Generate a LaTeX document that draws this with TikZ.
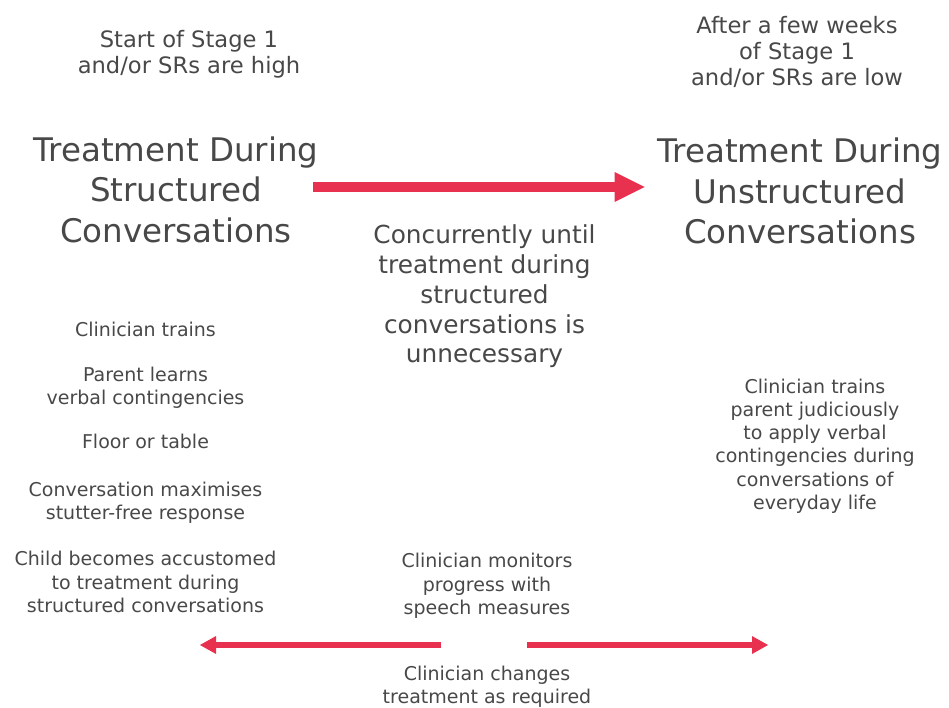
\documentclass[tikz,border=0pt]{standalone}
\usepackage{fontspec}
\setmainfont{DejaVu Sans}
\usetikzlibrary{arrows.meta}
\definecolor{txt}{RGB}{72,72,72}
\definecolor{flow}{RGB}{232,48,79}
\tikzset{
  every node/.style={inner sep=0pt, outer sep=0pt, text=txt, align=center},
  title/.style={font=\fontsize{32.5}{40.5}\selectfont},
  cond/.style={font=\fontsize{22.6}{26}\selectfont},
  mid/.style={font=\fontsize{24.8}{29.8}\selectfont},
  item/.style={font=\fontsize{19}{23.3}\selectfont},
  bigarrow/.style={draw=flow, line width=10pt, -{Triangle[length=30pt,width=30pt,line width=0pt]}},
  smallarrow/.style={draw=flow, line width=5.5pt, -{Triangle[length=16pt,width=18pt,line width=0pt]}}
}
\begin{document}
\begin{tikzpicture}[x=1pt,y=-1pt]
\useasboundingbox (0,0) rectangle (949,707);

% stage conditions
\node[cond] (c1) at (189,54) {Start of Stage 1\\and/or SRs are high};
\node[cond] (c2) at (797,52) {After a few weeks\\of Stage 1\\and/or SRs are low};

% the two treatment phases
\node[title] (lt) at (176,189.5) {Treatment During\\Structured\\Conversations};
\node[title] (rt) at (800,191) {Treatment During\\Unstructured\\Conversations};

\node[mid] (mc) at (484.5,296.5) {Concurrently until\\treatment during\\structured\\conversations is\\unnecessary};

% structured phase details
\node[item] (l1) at (145.5,329) {Clinician trains};
\node[item] (l2) at (145.5,387.5) {Parent learns\\verbal contingencies};
\node[item] (l3) at (145.5,441) {Floor or table};
\node[item] (l4) at (145.5,502.5) {Conversation maximises\\stutter-free response};
\node[item] (l5) at (145.5,582) {Child becomes accustomed\\to treatment during\\structured conversations};

% unstructured phase details
\node[item] (r1) at (815,446) {Clinician trains\\parent judiciously\\to apply verbal\\contingencies during\\conversations of\\everyday life};

% monitoring
\node[item] (m1) at (487,586) {Clinician monitors\\progress with\\speech measures};
\node[item] (m2) at (487,687) {Clinician changes\\treatment as required};

% arrows
\coordinate (ay) at (0,187);
\coordinate (ls) at (441,645);
\coordinate (le) at (200,645);
\coordinate (rs) at (527,645);
\coordinate (re) at (768,645);
\draw[bigarrow, shorten <=-5pt, shorten >=13pt] (lt.east |- ay) -- (rt.west |- ay);
\draw[smallarrow] (ls) -- (le);
\draw[smallarrow] (rs) -- (re);
\end{tikzpicture}
\end{document}
